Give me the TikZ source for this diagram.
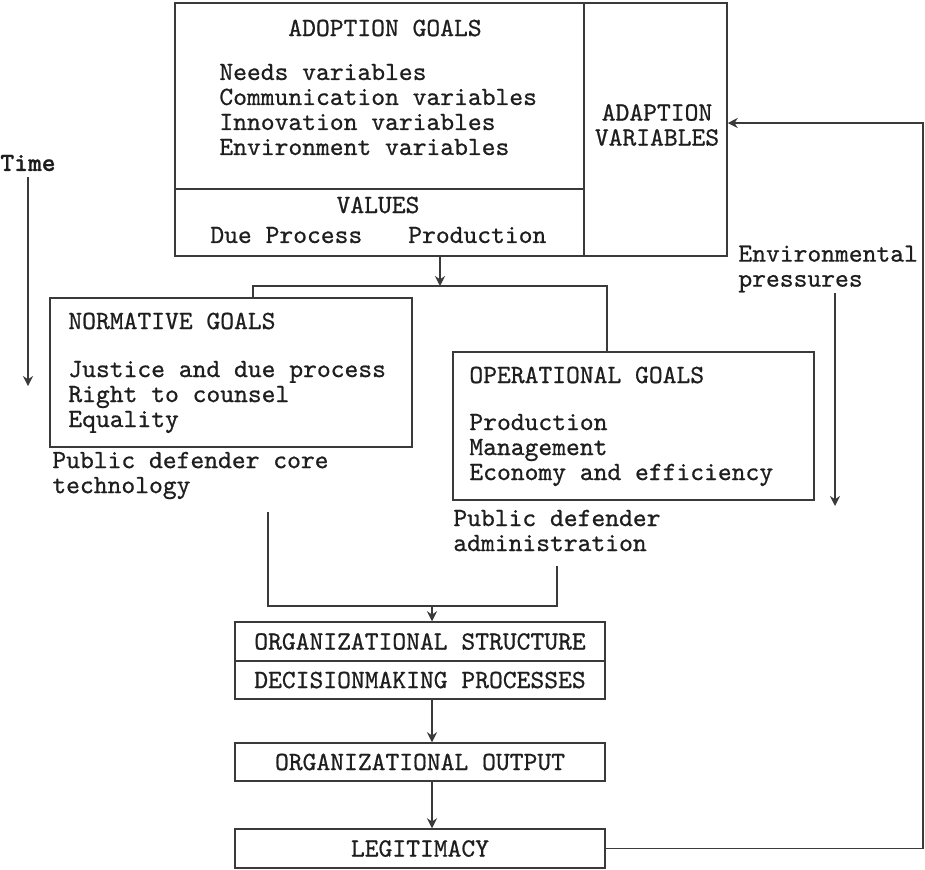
\documentclass[tikz,border=0pt]{standalone}
\usepackage{fontspec}
\setmonofont{lmmono10-regular.otf}[
  FakeBold=0.7,
  BoldFont=lmmonolt10-bold.otf,
  BoldFeatures={FakeBold=0.7}
]
\usepackage{xcolor}
\usepackage{tikz}
\usetikzlibrary{arrows.meta}
\definecolor{inkgray}{HTML}{3A3A3A}
\definecolor{textblack}{HTML}{1E1E1E}
\tikzset{
  goalbox/.style={
    draw=inkgray,
    line width=0.75pt,
    inner sep=0pt
  },
  stagebox/.style={
    goalbox,
    text=textblack,
    minimum width=185pt,
    align=center
  },
  plaintext/.style={
    text=textblack,
    inner sep=0pt,
    align=left
  },
  flowline/.style={
    line width=0.75pt,
    draw=inkgray
  },
  flowarrow/.style={
    flowline,
    -{Stealth[length=5pt,width=5pt]}
  }
}

\begin{document}
\begin{tikzpicture}[x=0.5pt, y=-0.5pt, font=\ttfamily\fontsize{13.15pt}{12.5pt}\selectfont]
    \useasboundingbox[fill=white] (0,0) rectangle (925,869);

    \node[goalbox, minimum width=204.5pt, minimum height=93pt] (adoptgoals) at (379.5,96) {};
    \node[goalbox, minimum width=204.5pt, minimum height=33.5pt] (values) at (379.5,222.5) {};
    \node[goalbox, minimum width=71.5pt, minimum height=126.5pt] (adaptvars) at (655.5,129.5) {};
    \node[plaintext] (adopttitle) at (385,28) {ADOPTION GOALS};
    \node[plaintext, anchor=west] (adoptlist) at (219,109.5) {
        Needs variables\\
        Communication variables\\
        Innovation variables\\
        Environment variables
    };
    \node[plaintext] (valuestitle) at (378,205) {VALUES};
    \node[plaintext, anchor=west] (valueslist) at (210,235) {Due Process\hspace{23pt}Production};
    \node[plaintext, align=center] (adapttext) at (657,125) {
        ADAPTION\\
        VARIABLES
    };

    \node[plaintext, font=\ttfamily\bfseries\fontsize{13.15pt}{12.5pt}\selectfont] (timelabel) at (28,163) {Time};
    \node[plaintext, anchor=west] (envpress) at (738,269) {
        Environmental\\
        pressures
    };

    \node[goalbox, minimum width=181pt, minimum height=74.5pt] (normgoals) at (231,372.5) {};
    \node[plaintext, anchor=west] (normtitle) at (68,321) {NORMATIVE GOALS};
    \node[plaintext, anchor=west] (normlist) at (68,397) {
        Justice and due process\\
        Right to counsel\\
        Equality
    };
    \node[plaintext, anchor=west] (coretech) at (52,475.5) {
        Public defender core\\
        technology
    };

    \node[goalbox, minimum width=180.5pt, minimum height=74pt] (opergoals) at (633.5,426) {};
    \node[plaintext, anchor=west] (opertitle) at (469,375) {OPERATIONAL GOALS};
    \node[plaintext, anchor=west] (operlist) at (469,450) {
        Production\\
        Management\\
        Economy and efficiency
    };
    \node[plaintext, anchor=west] (pdadmin) at (453,530.5) {
        Public defender\\
        administration
    };

    \node[stagebox, minimum height=19.5pt] (orgstructure) at (420,641.5) {ORGANIZATIONAL STRUCTURE};
    \node[stagebox, minimum height=19pt] (decisionmaking) at (420,680) {DECISIONMAKING PROCESSES};
    \node[stagebox, minimum height=19pt] (orgoutput) at (420,762) {ORGANIZATIONAL OUTPUT};
    \node[stagebox, minimum height=19.5pt] (legitimacy) at (420,848.5) {LEGITIMACY};

    \coordinate (valuesplit) at (440,286);
    \coordinate (timestart) at (28,177);
    \coordinate (timeend) at (28,386);
    \coordinate (envstart) at (835,293);
    \coordinate (envend) at (835,506);
    \coordinate (corejoin) at (268,512);
    \coordinate (adminjoin) at (557,566);
    \coordinate (stagemerge) at (432,606);
    \coordinate (feedbackturn) at (923,123);

    \draw[flowarrow] (values.south -| valuesplit) -- (valuesplit);
    \draw[flowline] ([xshift=11pt]normgoals.north) |- (valuesplit) -| ([xshift=-13.25pt]opergoals.north);
    \draw[flowarrow] (timestart) -- (timeend);
    \draw[flowarrow] (envstart) -- (envend);
    \draw[flowline] (corejoin) |- (stagemerge) -| (adminjoin);
    \draw[flowarrow] (stagemerge) -- (orgstructure.north -| stagemerge);
    \draw[flowarrow] (decisionmaking.south -| stagemerge) -- (orgoutput.north -| stagemerge);
    \draw[flowarrow] (orgoutput.south -| stagemerge) -- (legitimacy.north -| stagemerge);
    \draw[flowarrow] (legitimacy.east) -| (feedbackturn) -- ([yshift=3.25pt]adaptvars.east);
\end{tikzpicture}
\end{document}
